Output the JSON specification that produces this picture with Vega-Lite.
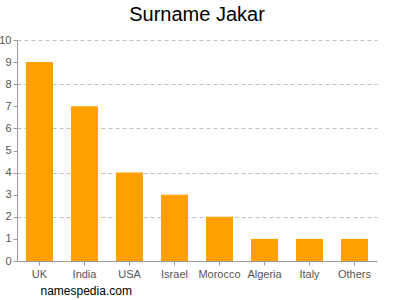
{
  "$schema": "https://vega.github.io/schema/vega-lite/v6.json",
  "width": 360,
  "height": 221,
  "autosize": "none",
  "padding": {"left": 17, "top": 40, "right": 23, "bottom": 39},
  "title": {"text": "Surname Jakar", "fontSize": 20, "fontWeight": "normal", "font": "Liberation Sans", "color": "#000", "offset": 9},
  "data": {"values": [
    {"country": "UK", "count": 9},
    {"country": "India", "count": 7},
    {"country": "USA", "count": 4},
    {"country": "Israel", "count": 3},
    {"country": "Morocco", "count": 2},
    {"country": "Algeria", "count": 1},
    {"country": "Italy", "count": 1},
    {"country": "Others", "count": 1}
  ]},
  "mark": {"type": "bar", "color": "#ffa000"},
  "encoding": {
    "x": {"field": "country", "type": "nominal", "sort": null,
      "scale": {"paddingInner": 0.4, "paddingOuter": 0.2},
      "axis": {"labelAngle": 0, "title": "namespedia.com", "titleAnchor": "start", "titleAlign": "left", "titleX": 23, "titleY": 24,
        "titleFontSize": 12, "titleFontWeight": "normal", "titleFont": "Liberation Sans", "titleColor": "#000",
        "labelFont": "Liberation Sans", "labelFontSize": 11, "labelColor": "#555", "domainColor": "#999", "tickColor": "#999", "tickSize": 4, "labelPadding": 3}},
    "y": {"field": "count", "type": "quantitative",
      "scale": {"domain": [0, 10], "nice": false},
      "axis": {"title": null, "values": [0,1,2,3,4,5,6,7,8,9,10], "labelFont": "Liberation Sans", "labelFontSize": 11, "labelColor": "#555",
        "domainColor": "#999", "tickColor": "#999", "tickSize": 4, "labelPadding": 2,
        "gridColor": "#c0c0c0", "gridDash": [4, 3],
        "gridOpacity": {"condition": {"test": "datum.value % 2 === 0 && datum.value > 0", "value": 1}, "value": 0}}}
  },
  "config": {"view": {"stroke": null}}
}
